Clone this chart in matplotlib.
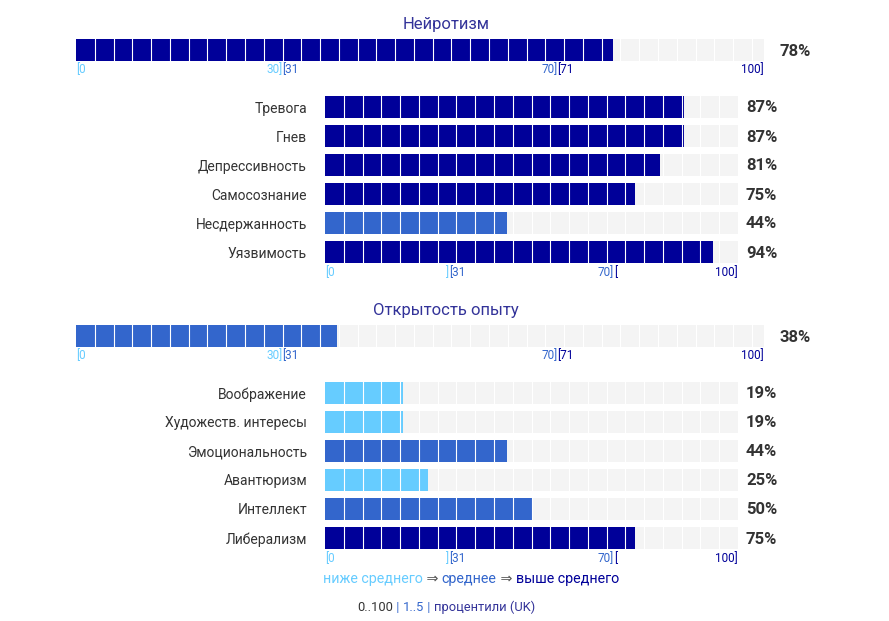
import matplotlib.pyplot as plt
import numpy as np
from matplotlib.offsetbox import TextArea, HPacker, AnnotationBbox

plt.rcParams['font.family'] = ['Roboto', 'DejaVu Sans']

# данные
section_titles = ['Нейротизм', 'Открытость опыту']
section_scores = [78, 38]

neuro_labels = ['Тревога', 'Гнев', 'Депрессивность', 'Самосознание',
                'Несдержанность', 'Уязвимость']
neuro_values = [87, 87, 81, 75, 44, 94]

open_labels = ['Воображение', 'Художеств. интересы', 'Эмоциональность',
               'Авантюризм', 'Интеллект', 'Либерализм']
open_values = [19, 19, 44, 25, 50, 75]

LIGHT = '#66CCFF'
MID = '#3366CC'
DARK = '#000099'
EMPTY = '#F4F4F4'
TEXT = '#333333'

W, H = 889, 621
SEG_PX = 413 / 22  # ширина одного сегмента в пикселях
fig = plt.figure(figsize=(W / 100, H / 100), dpi=100)


def level_color(v):
    if v <= 30:
        return LIGHT
    if v <= 70:
        return MID
    return DARK


def px_axes(x0, x1, y0, y1):
    # оси по пиксельным координатам (y сверху вниз)
    return fig.add_axes([x0 / W, 1 - y1 / H, (x1 - x0) / W, (y1 - y0) / H])


def draw_bars(ax, values, bar_h, width_px, pct_dx=8):
    n = len(values)
    rows = list(range(n))
    ax.barh(rows, [100] * n, height=bar_h, color=EMPTY, zorder=1)
    ax.barh(rows, values, height=bar_h,
            color=[level_color(v) for v in values], zorder=2)
    step = 100 * SEG_PX / width_px
    for s in np.arange(step, 100 - 0.5, step):
        ax.axvline(s, color='white', lw=0.8, zorder=3)
    ax.set_xlim(0, 100)
    ax.set_ylim(n - 0.5, -0.5)
    for sp in ax.spines.values():
        sp.set_visible(False)
    ax.tick_params(length=0)
    ax.set_xticks([])
    ax.set_facecolor('none')
    for i, v in enumerate(values):
        ax.annotate(f'{v}%', xy=(1, i), xycoords=('axes fraction', 'data'),
                    xytext=(pct_dx, -1), textcoords='offset pixels',
                    ha='left', va='center', fontsize=12, fontweight='bold',
                    color=TEXT)


def draw_scale(ax, marks, dy=8):
    for x, s, ha, c in marks:
        ax.annotate(s, xy=(x, 0), xycoords=('data', 'axes fraction'),
                    xytext=(0, -dy), textcoords='offset pixels',
                    ha=ha, va='center', fontsize=8.5, color=c)


big_marks = [(0, '[0', 'left', LIGHT), (30, '30]', 'right', LIGHT),
             (30, '[31', 'left', MID), (70, '70]', 'right', MID),
             (70, '[71', 'left', DARK), (100, '100]', 'right', DARK)]
sub_marks = [(0, '[0', 'left', LIGHT), (30, ']', 'right', LIGHT),
             (30, '[31', 'left', MID), (70, '70]', 'right', MID),
             (70, '[', 'left', DARK), (100, '100]', 'right', DARK)]

sections = [(section_titles[0], section_scores[0], neuro_labels, neuro_values, 0),
            (section_titles[1], section_scores[1], open_labels, open_values, 286)]

for title, score, labels, values, off in sections:
    fig.text(446 / W, 1 - (24 + off) / H, title, ha='center', va='center',
             fontsize=12, color='#333399')

    # общий балл
    ax_big = px_axes(76, 764, 39 + off, 61 + off)
    draw_bars(ax_big, [score], 1.0, 688, pct_dx=16)
    ax_big.set_yticks([])
    draw_scale(ax_big, big_marks, dy=8.5)

    # подшкалы
    ax = px_axes(325, 738, 92.5 + off, 266.5 + off)
    draw_bars(ax, values, 22 / 29, 413)
    ax.set_yticks(range(len(labels)))
    ax.set_yticklabels(labels, fontsize=10, color=TEXT)
    ax.tick_params(axis='y', pad=13)
    draw_scale(ax, sub_marks, dy=6)

# легенда уровней
parts = [('ниже среднего', LIGHT), (' ⇒ ', '#555555'), ('среднее', MID),
         (' ⇒ ', '#555555'), ('выше среднего', DARK)]
box = HPacker(children=[TextArea(s, textprops=dict(color=c, fontsize=10.3))
                        for s, c in parts], pad=0, sep=0)
fig.add_artist(AnnotationBbox(box, (471 / W, 1 - 579 / H), xycoords='figure fraction',
                              frameon=False, box_alignment=(0.5, 0.5)))

foot = [('0..100', TEXT), (' | ', MID), ('1..5', MID), (' | ', MID),
        ('процентили (UK)', '#333399')]
box2 = HPacker(children=[TextArea(s, textprops=dict(color=c, fontsize=9.3))
                         for s, c in foot], pad=0, sep=0)
fig.add_artist(AnnotationBbox(box2, (446 / W, 1 - 607 / H), xycoords='figure fraction',
                              frameon=False, box_alignment=(0.5, 0.5)))

fig.savefig('out.png', dpi=100, facecolor='white')
